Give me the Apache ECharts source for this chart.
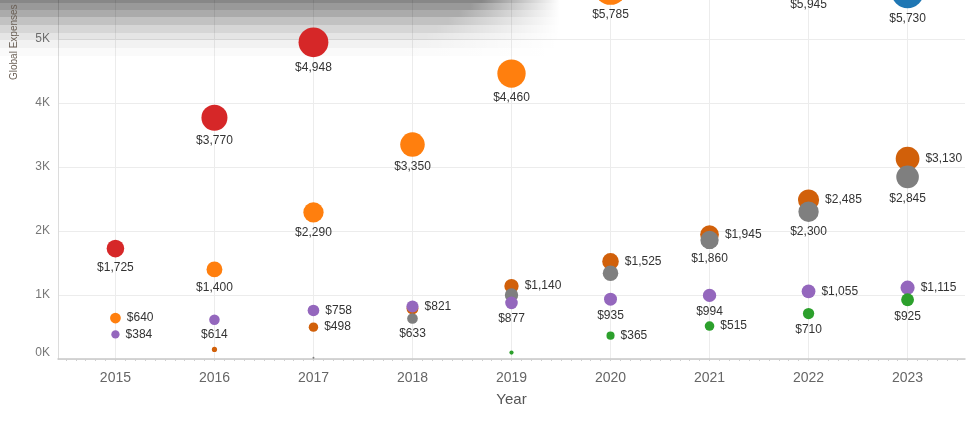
<!DOCTYPE html>
<html><head><meta charset="utf-8">
<script src="https://cdn.jsdelivr.net/npm/echarts@6/dist/echarts.min.js"></script>
<style>html,body{margin:0;padding:0;background:#fff}#c{width:971px;height:423px}</style>
</head><body><div id="c"></div><script>
// ---- data ----
const years = [2015, 2016, 2017, 2018, 2019, 2020, 2021, 2022, 2023];
const yTickValues = [0, 1000, 2000, 3000, 4000, 5000];
const redVals        = [1725, 3770, 4948, null, null, null, null, null, null];
const orangeVals     = [640, 1400, 2290, 3350, 4460, 5785, null, null, null];
const blueVals       = [null, null, null, null, null, null, null, 5945, 5730];
const darkOrangeVals = [null, 150, 498, 790, 1140, 1525, 1945, 2485, 3130];
const grayVals       = [null, null, 20, 633, 1000, 1340, 1860, 2300, 2845];
const purpleVals     = [384, 614, 758, 821, 877, 935, 994, 1055, 1115];
const greenVals      = [null, null, null, null, 100, 365, 515, 710, 925];
// label placement per point ('' = no label)
const redSides        = ['bottom','bottom','bottom','','','','','',''];
const orangeSides     = ['right','bottom','bottom','bottom','bottom','bottom','','',''];
const blueSides       = ['','','','','','','','bottom','bottom'];
const darkOrangeSides = ['','','right','','right','right','right','right','right'];
const graySides       = ['','','','bottom','','','bottom','bottom','bottom'];
const purpleSides     = ['right','bottom','right','right','bottom','bottom','bottom','right','right'];
const greenSides      = ['','','','','','right','right','bottom','bottom'];

const FONT = 'Liberation Sans, Arial, sans-serif';
function money(v){ return '$' + Math.round(v).toString().replace(/\B(?=(\d{3})+(?!\d))/g, ','); }
function pts(vals, sides){
  const out = [];
  years.forEach((y, i) => {
    if (vals[i] == null) return;
    const s = sides[i];
    out.push({ value: [y, vals[i]], label: { show: !!s, position: s || 'bottom', distance: s === 'right' ? 6 : 4 } });
  });
  return out;
}
function series(name, color, vals, sides){
  return {
    name, type: 'scatter', clip: false,
    data: pts(vals, sides),
    symbolSize: v => 0.424 * Math.sqrt(v[1]),
    itemStyle: { color: color, opacity: 1 },
    label: { formatter: p => money(p.value[1]), color: '#333', fontSize: 12, fontFamily: FONT },
    emphasis: { disabled: true },
    z: 3
  };
}
const minorTicks = [];
for (let i = 0; i <= 90; i++) minorTicks.push(2014.5 + i * 0.1);

const bandTops = [0, 3, 10, 17, 25, 33, 40, 48];
const bandH    = [3, 7, 7, 8, 8, 7, 8, 8];
const bandA    = [0.47, 0.40, 0.33, 0.24, 0.16, 0.10, 0.05, 0.02];
const bands = bandTops.map((t, i) => ({
  type: 'rect', z: 1, silent: true,
  shape: { x: 0, y: t, width: 560, height: bandH[i] },
  style: { fill: { type: 'linear', x: 0, y: 0, x2: 1, y2: 0, colorStops: [
    { offset: 0, color: 'rgba(0,0,0,' + bandA[i] + ')' },
    { offset: 0.86 - i * 0.02, color: 'rgba(0,0,0,' + bandA[i] + ')' },
    { offset: 1, color: 'rgba(0,0,0,0)' } ] } }
}));

const chart = echarts.init(document.getElementById('c'), null, { renderer: 'canvas' });
chart.setOption({
  animation: false,
  backgroundColor: '#fff',
  textStyle: { fontFamily: FONT },
  grid: { left: 58, right: 6, top: 0, bottom: 64, containLabel: false },
  xAxis: [{
    type: 'value', min: 2014.42, max: 2023.58,
    name: 'Year', nameLocation: 'middle', nameGap: 33,
    nameTextStyle: { color: '#555', fontSize: 15, fontFamily: FONT },
    axisLine: { show: true, lineStyle: { color: '#c8c8c8', width: 1.5 } },
    axisTick: { show: false, customValues: years },
    axisLabel: { customValues: years, formatter: v => String(Math.round(v)), color: '#666', fontSize: 14, margin: 12, fontFamily: FONT },
    splitLine: { show: true, lineStyle: { color: '#ececec' } }
  }, {
    type: 'value', min: 2014.42, max: 2023.58, position: 'bottom',
    axisLine: { show: false },
    axisLabel: { show: false },
    splitLine: { show: false },
    axisTick: { show: true, customValues: minorTicks, length: 2, lineStyle: { color: '#cfcfcf' } }
  }],
  yAxis: {
    type: 'value', min: 0, max: 5609,
    axisLine: { show: true, lineStyle: { color: '#dcdcdc' } },
    axisTick: { show: false, customValues: yTickValues },
    axisLabel: { customValues: yTickValues, formatter: v => Math.round(v / 1000) + 'K', color: '#777', fontSize: 12, margin: 8, fontFamily: FONT, verticalAlignMinLabel: 'bottom' },
    splitLine: { show: true, lineStyle: { color: '#ececec' } }
  },
  graphic: { elements: bands.concat([{
    type: 'text', x: 14, y: 80, rotation: Math.PI / 2, z: 2, silent: true,
    style: { text: 'Global Expenses', font: '10px ' + FONT, fill: '#6a5f55', textAlign: 'left', textVerticalAlign: 'middle' }
  }]) },
  series: [
    series('Blue', '#1f77b4', blueVals, blueSides),
    series('Orange', '#ff7f0e', orangeVals, orangeSides),
    series('Red', '#d62728', redVals, redSides),
    series('Dark Orange', '#d1600a', darkOrangeVals, darkOrangeSides),
    series('Gray', '#7f7f7f', grayVals, graySides),
    series('Purple', '#9467bd', purpleVals, purpleSides),
    series('Green', '#2ca02c', greenVals, greenSides)
  ]
});
</script></body></html>
